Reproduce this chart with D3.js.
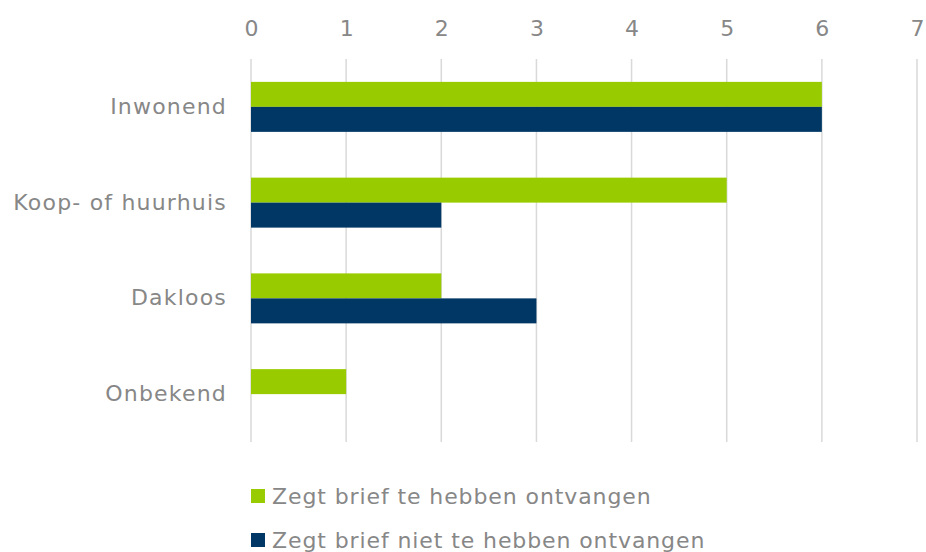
<!DOCTYPE html>
<html lang="nl">
<head>
<meta charset="utf-8">
<script src="https://cdn.jsdelivr.net/npm/d3@7"></script>
<style>
  body { margin: 0; background: #fff; }
  text { font-family: Verdana, "DejaVu Sans", sans-serif; fill: #878787; }
</style>
<title>Brief ontvangen</title>
</head>
<body>
<div id="chart"></div>
<script>
// data
var categories = ["Inwonend", "Koop- of huurhuis", "Dakloos", "Onbekend"];
var seriesNames = ["Zegt brief te hebben ontvangen", "Zegt brief niet te hebben ontvangen"];
var ontvangen = [6, 5, 2, 1];
var nietOntvangen = [6, 2, 3, 0];
var tickValues = [0, 1, 2, 3, 4, 5, 6, 7];
var colors = ["#99cc00", "#003764"];

var width = 926, height = 552;

var svg = d3.select("#chart").append("svg")
  .attr("width", width)
  .attr("height", height);

// scales
var x = d3.scaleLinear().domain([0, 7]).range([251, 917]);
var y = d3.scaleBand().domain(categories).range([59, 442])
  .paddingInner(0.478).paddingOuter(0.239);
var ySub = d3.scaleBand().domain([0, 1]).range([0, y.bandwidth()]);

// gridlines
svg.append("g").selectAll("line")
  .data(tickValues)
  .enter().append("line")
  .attr("x1", function(d) { return x(d); })
  .attr("x2", function(d) { return x(d); })
  .attr("y1", 59)
  .attr("y2", 442)
  .style("stroke", "#d9d9d9")
  .style("stroke-width", 1.5);

// top axis labels
var xAxis = d3.axisTop(x).tickValues(tickValues).tickFormat(d3.format("d"))
  .tickSize(0).tickPadding(0);
var gx = svg.append("g").attr("transform", "translate(0,36)").call(xAxis);
gx.select(".domain").remove();
gx.selectAll("text")
  .style("font-size", "22px")
  .style("fill", "#878787")
  .style("font-family", "Verdana, 'DejaVu Sans', sans-serif");

// category labels
var yAxis = d3.axisLeft(y).tickSize(0).tickPadding(24);
var gy = svg.append("g").attr("transform", "translate(251,0)").call(yAxis);
gy.select(".domain").remove();
gy.selectAll("text")
  .style("font-size", "22px")
  .style("letter-spacing", "1.2px")
  .style("fill", "#878787")
  .style("font-family", "Verdana, 'DejaVu Sans', sans-serif");

// bars
var series = [ontvangen, nietOntvangen];
series.forEach(function(values, s) {
  svg.append("g").selectAll("rect")
    .data(values)
    .enter().append("rect")
    .attr("x", x(0))
    .attr("y", function(d, i) { return y(categories[i]) + ySub(s); })
    .attr("width", function(d) { return x(d) - x(0); })
    .attr("height", ySub.bandwidth())
    .style("fill", colors[s]);
});

// legend
var legend = svg.append("g").attr("transform", "translate(251,496)");
seriesNames.forEach(function(name, i) {
  var row = legend.append("g").attr("transform", "translate(0," + (i * 44) + ")");
  row.append("rect")
    .attr("x", 0).attr("y", -7)
    .attr("width", 14).attr("height", 14)
    .style("fill", colors[i]);
  row.append("text")
    .attr("x", 21).attr("y", 0).attr("dy", "0.36em")
    .style("font-size", "22px")
    .style("letter-spacing", "0.9px")
    .text(name);
});
</script>
</body>
</html>
